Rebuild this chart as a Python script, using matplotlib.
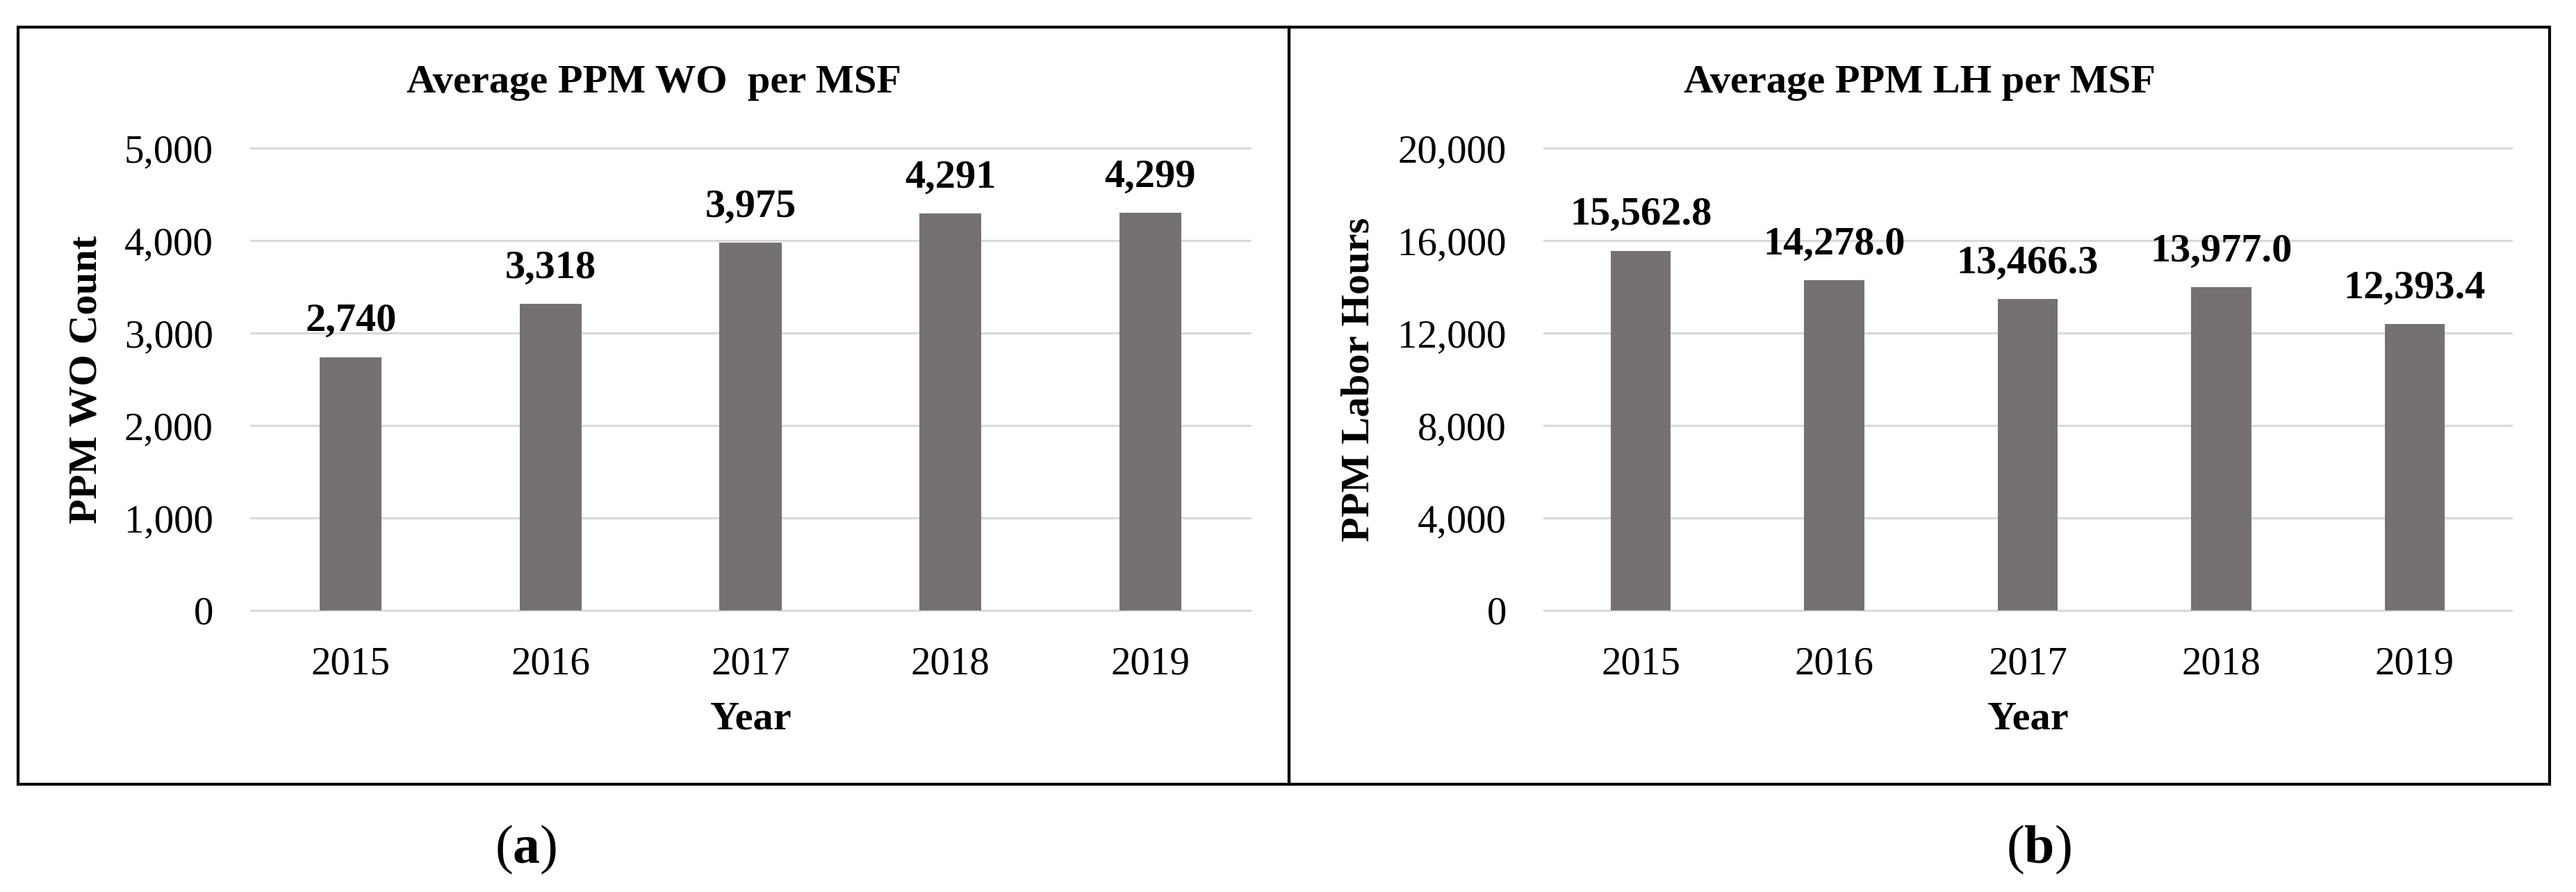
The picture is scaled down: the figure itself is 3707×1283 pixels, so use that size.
import matplotlib
matplotlib.use("Agg")
import matplotlib.pyplot as plt
from matplotlib.patches import Rectangle
from matplotlib.ticker import FuncFormatter

plt.rcParams['font.family'] = ['Liberation Serif', 'DejaVu Serif']
plt.rcParams['mathtext.fontset'] = 'custom'
plt.rcParams['mathtext.rm'] = 'Liberation Serif'
plt.rcParams['mathtext.bf'] = 'Liberation Serif:bold'

# data
years = ['2015', '2016', '2017', '2018', '2019']
wo_count = [2740, 3318, 3975, 4291, 4299]
labor_hours = [15562.8, 14278.0, 13466.3, 13977.0, 12393.4]

titles = ['Average PPM WO  per MSF', 'Average PPM LH per MSF']
ylabels = ['PPM WO Count', 'PPM Labor Hours']
yticks_wo = [0, 1000, 2000, 3000, 4000, 5000]
yticks_lh = [0, 4000, 8000, 12000, 16000, 20000]

W, H = 3707, 1283
fig = plt.figure(figsize=(W / 100, H / 100), dpi=100)

bar_color = '#767171'
grid_color = '#D9D9D9'

ax1 = fig.add_axes([361 / W, 1 - 878 / H, 1438 / W, 665 / H])
ax2 = fig.add_axes([2222 / W, 1 - 878 / H, 1392 / W, 665 / H])

panels = [
    (ax1, wo_count, yticks_wo, '{:,.0f}', -0.1648, 941),
    (ax2, labor_hours, yticks_lh, '{:,.1f}', -0.1918, 2762),
]

for i, (ax, vals, ticks, fmt, ylab_x, title_x) in enumerate(panels):
    x = range(len(years))
    ax.bar(x, vals, width=0.31, color=bar_color, zorder=3)
    ax.set_xlim(-0.5, len(years) - 0.5)
    ax.set_ylim(ticks[0], ticks[-1])
    ax.set_yticks(ticks)
    ax.yaxis.set_major_formatter(FuncFormatter(lambda v, p: '{:,.0f}'.format(v)))
    ax.set_xticks(list(x))
    ax.set_xticklabels(years)
    ax.tick_params(axis='both', length=0, labelsize=41)
    ax.tick_params(axis='y', pad=39)
    ax.tick_params(axis='x', pad=37)
    ax.grid(axis='y', color=grid_color, linewidth=2.2, zorder=0)
    for gl in ax.yaxis.get_gridlines():
        gl.set_clip_on(False)
    for s in ax.spines.values():
        s.set_visible(False)

    for xi, v in zip(x, vals):
        ax.annotate(fmt.format(v), (xi, v), xytext=(0, 27), textcoords='offset points',
                    ha='center', va='baseline', fontsize=42, fontweight='bold')

    ax.set_xlabel('Year', fontsize=42, fontweight='bold', va='center')
    ax.xaxis.set_label_coords(0.5, -0.2346)
    ax.set_ylabel(ylabels[i], fontsize=42, fontweight='bold', va='center')
    ax.yaxis.set_label_coords(ylab_x, 0.5)

    fig.text(title_x / W, 1 - 133 / H, titles[i], ha='center', va='baseline',
             fontsize=42, fontweight='bold')

# panel frames
for x0, x1 in [(26, 1855), (1855, 3669)]:
    fig.patches.append(Rectangle((x0 / W, 1 - 1128 / H), (x1 - x0) / W, (1128 - 39) / H,
                                 transform=fig.transFigure, fill=False,
                                 edgecolor='black', linewidth=3))

# sub-figure labels
fig.text(757 / W, 1 - 1222 / H, r'($\mathbf{a}$)', ha='center', va='center', fontsize=56)
fig.text(2934 / W, 1 - 1222 / H, r'($\mathbf{b}$)', ha='center', va='center', fontsize=56)

fig.savefig('out.png', dpi=100)
